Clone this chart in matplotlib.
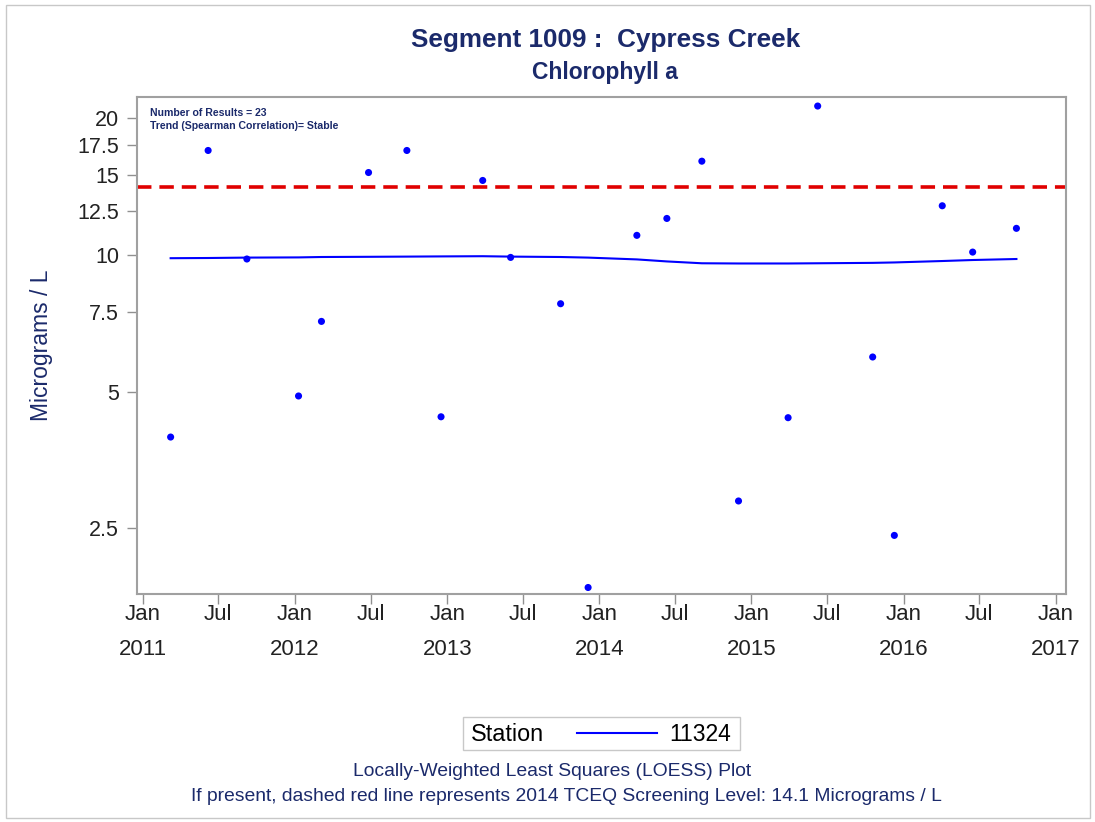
import matplotlib
matplotlib.use("Agg")
import matplotlib.pyplot as plt
from matplotlib.lines import Line2D
from matplotlib.patches import Rectangle
import datetime as dt

plt.rcParams['font.family'] = ['Liberation Sans', 'DejaVu Sans']

# ---- data ----
sample_dates = ["2011-03-09", "2011-06-07", "2011-09-08", "2012-01-10", "2012-03-05",
                "2012-06-26", "2012-09-26", "2012-12-17", "2013-03-27", "2013-06-02",
                "2013-09-30", "2013-12-05", "2014-04-01", "2014-06-12", "2014-09-04",
                "2014-12-01", "2015-03-30", "2015-06-09", "2015-10-19", "2015-12-10",
                "2016-04-03", "2016-06-15", "2016-09-28"]
chl_values = [3.97, 17.0, 9.80, 4.89, 7.14,
              15.2, 17.0, 4.40, 14.6, 9.88,
              7.81, 1.85, 11.05, 12.04, 16.1,
              2.87, 4.38, 21.3, 5.96, 2.41,
              12.84, 10.15, 11.45]
loess_values = [9.84, 9.85, 9.87, 9.88, 9.90,
                9.91, 9.92, 9.93, 9.94, 9.92,
                9.90, 9.87, 9.78, 9.68, 9.59,
                9.58, 9.58, 9.59, 9.61, 9.63,
                9.70, 9.75, 9.80]
screening_level = 14.1
y_ticks = [2.5, 5, 7.5, 10, 12.5, 15, 17.5, 20]
y_tick_labels = ["2.5", "5", "7.5", "10", "12.5", "15", "17.5", "20"]
station = "11324"
n_results = 23

dates = [dt.datetime.strptime(d, "%Y-%m-%d") for d in sample_dates]

navy = '#1b2a6b'
blue = '#0000ff'

fig = plt.figure(figsize=(10.95, 8.22), dpi=100)
ax = fig.add_axes([137.3 / 1095, 1 - 594 / 822, (1066 - 137.3) / 1095, (594 - 97) / 822])

ax.set_yscale('log')
ax.plot(dates, loess_values, color=blue, lw=1.5, zorder=3)
ax.scatter(dates, chl_values, s=26, color=blue, edgecolors='none', zorder=4)
ax.axhline(screening_level, color='#e00000', lw=2.6, dashes=(4, 2.2), zorder=2)

ax.set_ylim(1.79, 22.3)
ax.set_xlim(dt.datetime(2010, 12, 19), dt.datetime(2017, 1, 25))

ax.yaxis.set_minor_locator(matplotlib.ticker.NullLocator())
ax.set_yticks(y_ticks)
ax.set_yticklabels(y_tick_labels)

xt = []
xl = []
for yr in range(2011, 2018):
    xt.append(dt.datetime(yr, 1, 1))
    xl.append(f"Jan\n{yr}")
    if yr < 2017:
        xt.append(dt.datetime(yr, 7, 1))
        xl.append("Jul")
ax.set_xticks(xt)
ax.set_xticklabels(xl, linespacing=1.9, va='top')
ax.xaxis.set_minor_locator(matplotlib.ticker.NullLocator())

ax.tick_params(axis='both', direction='out', length=7, width=1.0, color='#909090',
               labelcolor='#222222')
ax.tick_params(axis='y', labelsize=15.5, pad=6)
ax.tick_params(axis='x', labelsize=16, pad=0)
for s in ax.spines.values():
    s.set_color('#a0a0a0')
    s.set_linewidth(1.5)

ax.set_ylabel("Micrograms / L", fontsize=16.5, color=navy)
ax.yaxis.set_label_coords(-0.091, 0.5)

ax.text(0.014, 0.977, f"Number of Results = {n_results}\nTrend (Spearman Correlation)= Stable",
        transform=ax.transAxes, fontsize=7.6, fontweight='bold', color=navy,
        va='top', ha='left', linespacing=1.3)

fig.text(606 / 1095, 1 - 40 / 822, "Segment 1009 :  Cypress Creek", fontsize=18.8,
         fontweight='bold', color=navy, ha='center', va='center')
fig.text(605 / 1095, 1 - 73 / 822, "Chlorophyll a", fontsize=16.5,
         fontweight='bold', color=navy, ha='center', va='center')

# legend box
fig.add_artist(Rectangle((463 / 1095, 1 - 750 / 822), (740 - 463) / 1095, 33 / 822,
                         transform=fig.transFigure, facecolor='white',
                         edgecolor='#c8c8c8', lw=1.0))
fig.text(471 / 1095, 1 - 734 / 822, "Station", fontsize=16.8, color='black',
         ha='left', va='center')
fig.add_artist(Line2D([577 / 1095, 657 / 1095], [1 - 733 / 822, 1 - 733 / 822],
                      transform=fig.transFigure, color=blue, lw=1.5))
fig.text(731 / 1095, 1 - 734 / 822, station, fontsize=16.5, color='black',
         ha='right', va='center')

fig.text(552 / 1095, 1 - 771 / 822, "Locally-Weighted Least Squares (LOESS) Plot",
         fontsize=13.9, color=navy, ha='center', va='center')
fig.text(566 / 1095, 1 - 796 / 822,
         "If present, dashed red line represents 2014 TCEQ Screening Level: 14.1 Micrograms / L",
         fontsize=13.9, color=navy, ha='center', va='center')

# outer frame
fig.add_artist(Rectangle((6 / 1095, 1 - 818 / 822), (1090 - 6) / 1095, (818 - 5) / 822,
                         transform=fig.transFigure, facecolor='none',
                         edgecolor='#c8c8c8', lw=1.0))

fig.savefig("out.png", dpi=100)
